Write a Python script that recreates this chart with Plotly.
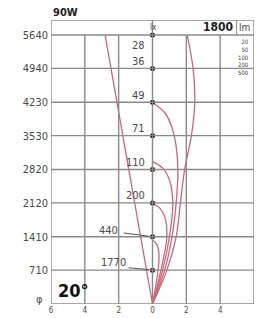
import plotly.graph_objects as go

# ---------------- data ----------------
y_ticks = [0, 710, 1410, 2120, 2820, 3530, 4230, 4940, 5640]
y_ticklabels = ["", "710", "1410", "2120", "2820", "3530", "4230", "4940", "5640"]
origin_label = "\u03c6"
x_ticks = [-6, -4, -2, 0, 2, 4, 6]
x_ticklabels = ["6", "4", "2", "0", "2", "4", "6"]

# centre illuminance (lx) at each distance
center_y = [5640, 4940, 4230, 3530, 2820, 2120, 1410, 710]
center_lx = ["28", "36", "49", "71", "110", "200", "440", "1770"]

# beam edge (left side)
beam_x = [0, -2.8]
beam_y = [0, 5640]

# iso-lux curves (right side): half width x vs distance y
lux_levels = ["20", "50", "100", "200", "500"]
c20_y = [0, 710, 1410, 2120, 2820, 3530, 4230, 4940, 5640]
c20_x = [0, 0.85, 1.4, 1.65, 1.9, 2.3, 2.5, 2.4, 2.05]
c50_y = [0, 710, 1410, 2120, 2820, 3300, 3700, 4000, 4224]
c50_x = [0, 0.72, 1.15, 1.4, 1.5, 1.4, 1.15, 0.75, 0]
c100_y = [0, 710, 1410, 2120, 2600, 2850, 2987]
c100_x = [0, 0.6, 1.0, 1.2, 1.0, 0.6, 0]
c200_y = [0, 710, 1410, 1800, 2000, 2112]
c200_x = [0, 0.5, 0.85, 0.75, 0.45, 0]
c500_y = [0, 500, 900, 1150, 1280, 1336]
c500_x = [0, 0.25, 0.38, 0.35, 0.2, 0]

curves = [(c20_x, c20_y), (c50_x, c50_y), (c100_x, c100_y), (c200_x, c200_y), (c500_x, c500_y)]

title_text = "90W"
lumen_text = "1800"
angle_text = "20\u00b0"

# ---------------- figure ----------------
CURVE = "#c8687c"
GRID = "#8a8a8a"
TXT = "#4a4a4a"
FONT = "Liberation Sans Narrow, DejaVu Sans Condensed, Liberation Sans, sans-serif"

YTOP = 5955

fig = go.Figure()

shapes = []
for yv in y_ticks[1:]:
    shapes.append(dict(type="line", xref="x", yref="y", x0=-6, x1=6, y0=yv, y1=yv,
                       line=dict(color=GRID, width=1.4)))
for xv in [-4, -2, 2, 4]:
    shapes.append(dict(type="line", xref="x", yref="y", x0=xv, x1=xv, y0=0, y1=5640,
                       line=dict(color=GRID, width=1.4)))
shapes.append(dict(type="line", xref="x", yref="y", x0=0, x1=0, y0=0, y1=YTOP,
                   line=dict(color=GRID, width=1.4)))
shapes.append(dict(type="rect", xref="x", yref="y", x0=-6, x1=6, y0=0, y1=YTOP,
                   line=dict(color=GRID, width=1.4)))
shapes.append(dict(type="line", xref="x", yref="y", x0=4.97, x1=4.97, y0=5640, y1=YTOP,
                   line=dict(color=GRID, width=1)))

fig.add_trace(go.Scatter(x=beam_x, y=beam_y, mode="lines",
                         line=dict(color=CURVE, width=1.3), showlegend=False, hoverinfo="skip"))
for cx, cy in curves:
    fig.add_trace(go.Scatter(x=cx, y=cy, mode="lines", line_shape="spline",
                             line=dict(color=CURVE, width=1.3), showlegend=False, hoverinfo="skip"))

fig.add_trace(go.Scatter(x=[0] * len(center_y), y=center_y, mode="markers",
                         marker=dict(color="#111", size=5), showlegend=False, hoverinfo="skip"))

ann = []
for yv, t in zip(center_y, center_lx):
    if t == "28":
        a = dict(x=-0.3, y=yv - 210, text=t, xanchor="right")
    elif t == "440":
        a = dict(x=-1.95, y=yv + 130, text=t, xanchor="right")
    elif t == "1770":
        a = dict(x=-1.42, y=yv + 160, text=t, xanchor="right")
    else:
        a = dict(x=-0.3, y=yv + 145, text=t, xanchor="right")
    a.update(xref="x", yref="y", yanchor="middle", showarrow=False,
             font=dict(family=FONT, size=11, color=TXT))
    ann.append(a)

shapes.append(dict(type="line", xref="x", yref="y", x0=-1.7, x1=-0.2, y0=1490, y1=1420,
                   line=dict(color="#555", width=1)))
shapes.append(dict(type="line", xref="x", yref="y", x0=-1.42, x1=-0.2, y0=760, y1=720,
                   line=dict(color="#555", width=1)))

ann.append(dict(x=0.05, y=5800, xref="x", yref="y", text="lx", showarrow=False,
                xanchor="center", yanchor="middle", font=dict(family=FONT, size=8, color=TXT)))
ann.append(dict(x=4.9, y=5800, xref="x", yref="y", text="<b>" + lumen_text + "</b>", showarrow=False,
                xanchor="right", yanchor="middle", font=dict(family=FONT, size=12, color="#222")))
ann.append(dict(x=5.9, y=5800, xref="x", yref="y", text="lm", showarrow=False,
                xanchor="right", yanchor="middle", font=dict(family=FONT, size=10, color=TXT)))
ann.append(dict(x=5.8, y=5170, xref="x", yref="y", text="<br>".join(lux_levels), showarrow=False,
                xanchor="right", yanchor="middle", align="right",
                font=dict(family=FONT, size=6, color="#444")))
ann.append(dict(x=-5.7, y=290, xref="x", yref="y", text="<b>" + angle_text + "</b>", showarrow=False,
                xanchor="left", yanchor="middle", font=dict(family=FONT, size=18, color="#111")))
ann.append(dict(x=0.0, y=1.0, xref="paper", yref="paper", yshift=8, text="<b>" + title_text + "</b>",
                showarrow=False, xanchor="left", yanchor="middle",
                font=dict(family=FONT, size=11, color="#222")))
ann.append(dict(x=0.0, y=90, xref="paper", yref="y", xshift=-6, text=origin_label,
                showarrow=False, xanchor="right", yanchor="middle",
                font=dict(family=FONT, size=11, color=TXT)))

fig.update_layout(
    width=256, height=318,
    margin=dict(l=51, r=2, t=20, b=14, autoexpand=False),
    paper_bgcolor="white", plot_bgcolor="white",
    shapes=shapes, annotations=ann,
    xaxis=dict(range=[-6, 6], tickvals=x_ticks, ticktext=x_ticklabels, showgrid=False,
               zeroline=False, ticks="", tickfont=dict(family=FONT, size=8, color=TXT),
               showline=False, fixedrange=True, automargin=False),
    yaxis=dict(range=[0, YTOP], tickvals=y_ticks, ticktext=y_ticklabels, showgrid=False,
               zeroline=False, ticks="", tickfont=dict(family=FONT, size=11, color=TXT),
               showline=False, fixedrange=True, ticklabelstandoff=2, automargin=False),
)

fig.write_html("out.html", config=dict(displayModeBar=False),
               post_script="document.body.style.margin='0';document.body.style.padding='0';")
